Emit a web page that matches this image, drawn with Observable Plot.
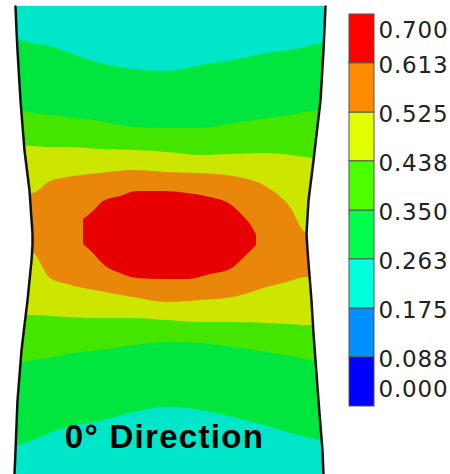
<!DOCTYPE html>
<html><head><meta charset="utf-8">
<script src="https://cdn.jsdelivr.net/npm/d3@7"></script>
<script src="https://cdn.jsdelivr.net/npm/@observablehq/plot@0.6"></script>
<style>
html,body{margin:0;padding:0;background:#fff;}
#wrap{position:relative;width:450px;height:474px;overflow:hidden;}
#wrap svg{position:absolute;top:0;}
</style></head><body><div id="wrap"></div>
<script>
const title = "0° Direction";

// contour levels and legend
const levels = [0.000, 0.088, 0.175, 0.263, 0.350, 0.438, 0.525, 0.613, 0.700];
const levelLabels = ["0.000","0.088","0.175","0.263","0.350","0.438","0.525","0.613","0.700"];
const legendColors = ["#0000ff","#0090ff","#00ffdc","#00ff4a","#4cff00","#e0ff00","#ff8c00","#ff0000"];
const fieldColors  = ["#0000e6","#0082e6","#00e6c8","#00e63f","#44e600","#cce600","#e8870a","#e60000"];

// sampling positions across the specimen width
const xs = [0,17,33,50,67,100,133,167,200,233,267,290,305,322,340];
// specimen ends
const specimenTop    = [6,6,6,6,6,6,6,6,6,6,6,6,6,6,6];
const specimenBottom = [474,474,474,474,474,474,474,474,474,474,474,474,474,474,474];
// contour boundaries (position along length at each xs)
const b1 = [39,40,43,46,52,63,69,71,65,60,53,50,47,43,43];          // 0.263 upper
const b2 = [110,110,113,115,117,121,127,128,128,123,118,115,112,111,110]; // 0.350 upper
const b3 = [145,145,146,147,147,149,150,152,155,154,153,155,157,158,158]; // 0.438 upper
const b4 = [195,195,193,181,177,173,170,172,173,176,187,207,232,235,235]; // 0.525 upper
const b5 = [250,250,253,278,284,291,297,302,300,297,287,281,277,277,277]; // 0.525 lower
const b6 = [315,315,315,316,317,318,318,320,322,322,323,324,325,325,325]; // 0.438 lower
const b7 = [363,363,360,358,354,350,345,342,343,347,352,356,359,362,362]; // 0.350 lower
const b8 = [446,445,440,433,427,421,412,407,410,417,426,433,437,440,440]; // 0.263 lower

// peak zone (> 0.613)
const redX      = [83,93,103,120,137,163,187,210,230,243,252,256];
const redTop    = [219,211,201,196,191,191,193,197,204,216,227,235];
const redBottom = [244,253,264,273,278,279,279,274,269,258,249,245];

// specimen outline
const leftEdgeY  = [6,30,50,100,150,190,233,245,260,300,333,350,400,450,474];
const leftEdgeX  = [15,16,17,20,24,29,32,32,31,27,23,21,17,15,14];
const rightEdgeY = [6,50,100,160,200,233,250,300,333,400,450,474];
const rightEdgeX = [325,323,320,313,308,306,307,311,313,318,322,323];

// ---- build tables ----
const bandDefs = [
  {upper: specimenTop, lower: specimenBottom, level: 2},
  {upper: b1, lower: b8, level: 3},
  {upper: b2, lower: b7, level: 4},
  {upper: b3, lower: b6, level: 5},
  {upper: b4, lower: b5, level: 6}
];
const bandMarks = bandDefs.map(b =>
  Plot.areaY(xs.map((x,i)=>({x, y1: b.upper[i], y2: b.lower[i]})),
    {x:"x", y1:"y1", y2:"y2", fill: fieldColors[b.level], curve:"monotone-x"}));
const redRows = redX.map((x,i)=>({x, y1: redTop[i], y2: redBottom[i]}));
const leftEdge = leftEdgeY.map((y,i)=>({y, x: leftEdgeX[i]}));
const rightEdge = rightEdgeY.map((y,i)=>({y, x: rightEdgeX[i]}));
const xMax = xs[xs.length-1];

const main = Plot.plot({
  width: 340, height: 474, margin: 0,
  x: {domain: [0, xMax], axis: null},
  y: {domain: [474, 0], axis: null},
  style: {background: "white", letterSpacing: "1.3px"},
  marks: [
    ...bandMarks,
    Plot.areaY(redRows, {x:"x", y1:"y1", y2:"y2", fill: fieldColors[7], curve:"monotone-x"}),
    Plot.areaX(leftEdge, {y:"y", x:"x", fill:"white"}),
    Plot.areaX(rightEdge, {y:"y", x1:"x", x2: () => xMax, fill:"white"}),
    Plot.line(leftEdge, {x:"x", y:"y", stroke:"#111", strokeWidth:2.5}),
    Plot.line(rightEdge, {x:"x", y:"y", stroke:"#111", strokeWidth:2.5}),
    Plot.text([title], {frameAnchor:"bottom", text: d=>d, dx:-6, dy:-27, lineAnchor:"bottom",
      fontSize: 33, fontWeight:"bold", fontFamily:"'Liberation Sans', Arial, sans-serif", fill:"#000"})
  ]
});
main.style.left = "0px";

const legendRows = legendColors.map((c,i)=>({lo: levels[i], hi: levels[i+1], color: c}));
const innerIdx = [1,2,3,4,5,6,7];
const labelFont = {fontSize:23, fontFamily:"'DejaVu Sans', Verdana, sans-serif", fill:"#222", textAnchor:"start"};
const legend = Plot.plot({
  width: 110, height: 474,
  marginLeft: 9, marginRight: 76, marginTop: 14, marginBottom: 68,
  x: {domain: [0,1], axis: null},
  y: {domain: [0, 0.7], axis: null},
  color: {type: "identity"},
  style: {background: "transparent", letterSpacing: "0.8px"},
  marks: [
    Plot.rect(legendRows, {x1:0, x2:1, y1:"lo", y2:"hi", fill:"color", stroke:"#555", strokeWidth:1}),
    Plot.text(innerIdx, {x:1, y: i=>levels[i], text: i=>levelLabels[i], dx:4, dy:2, ...labelFont}),
    Plot.text([8], {x:1, y: i=>levels[i], text: i=>levelLabels[i], dx:4, dy:16, ...labelFont}),
    Plot.text([0], {x:1, y: i=>levels[i], text: i=>levelLabels[i], dx:4, dy:-17, ...labelFont})
  ]
});
legend.style.left = "340px";

const wrap = document.getElementById("wrap");
wrap.appendChild(main);
wrap.appendChild(legend);
</script>
</body></html>
